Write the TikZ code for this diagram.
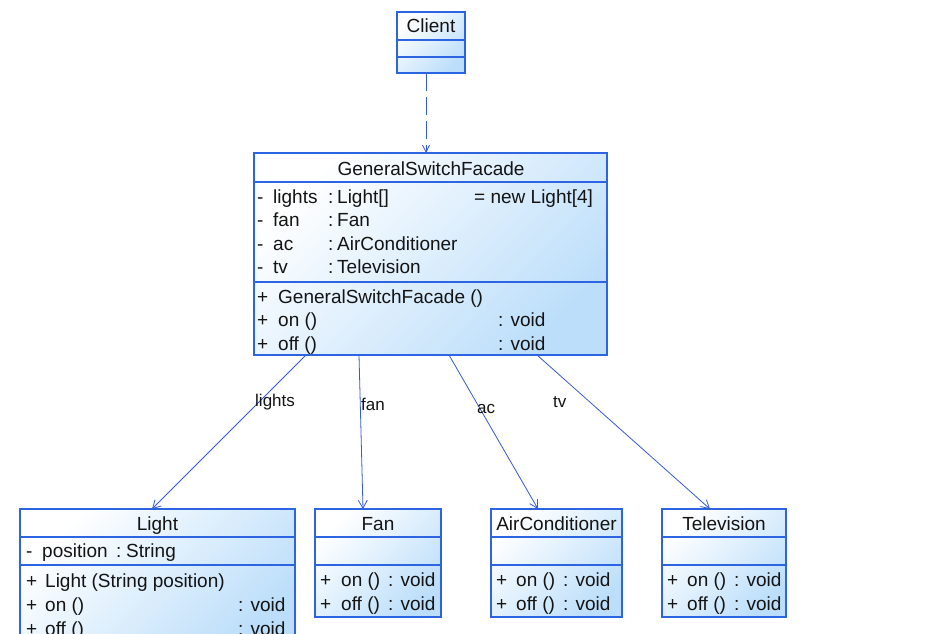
\documentclass[tikz,border=0pt]{standalone}
\usepackage{fontspec}
\setmainfont{Liberation Sans}
\usetikzlibrary{arrows.meta,calc}
\definecolor{umlborder}{RGB}{45,100,225}
\definecolor{umlline}{RGB}{55,90,215}
\definecolor{umlfill}{RGB}{188,222,250}
\definecolor{umltext}{RGB}{20,20,20}
\begin{document}
\begin{tikzpicture}[x=1pt,y=-1pt,
  classbox/.style={draw=umlborder, line width=1.1pt, top color=white,
    bottom color=umlfill, shading angle=45, anchor=north west,
    inner sep=0pt, outer sep=0pt},
  sep/.style={draw=umlborder, line width=1.1pt},
  title/.style={anchor=base, inner sep=0pt, text=umltext,
    font=\fontsize{19}{22}\selectfont},
  txt/.style={anchor=base west, inner sep=0pt, text=umltext,
    font=\fontsize{19}{22}\selectfont},
  role/.style={anchor=base west, inner sep=0pt, text=umltext,
    font=\fontsize{17}{20}\selectfont},
  assoc/.style={draw=umlline, line width=0.8pt,
    -{Straight Barb[length=8pt,width=9pt]}},
  depend/.style={draw=umlline, line width=0.8pt, dash pattern=on 18pt off 6pt,
    -{Straight Barb[length=7pt,width=7pt]}},
]
\useasboundingbox (0,0) rectangle (947,633);
\clip (0,0) rectangle (947,633);
\fill[white] (0,0) rectangle (947,633);

% ---- class boxes ----
\node[classbox, minimum width=68pt, minimum height=61pt] (client) at (397,12) {};
\node[classbox, minimum width=353pt, minimum height=202pt] (gsf) at (254,153) {};
\node[classbox, minimum width=275pt, minimum height=140pt] (light) at (20,509) {};
\node[classbox, minimum width=126pt, minimum height=108pt] (fan) at (315,509) {};
\node[classbox, minimum width=131pt, minimum height=108pt] (ac) at (491,509) {};
\node[classbox, minimum width=124pt, minimum height=108pt] (tv) at (662,509) {};

% ---- compartment separators ----
\foreach \c/\a/\b in {client/28/45, gsf/29/129, light/28/56, fan/28/56, ac/28/56, tv/28/56}{
  \draw[sep] ($(\c.north west)+(0,\a)$) -- ($(\c.north east)+(0,\a)$);
  \draw[sep] ($(\c.north west)+(0,\b)$) -- ($(\c.north east)+(0,\b)$);
}

% ---- Client ----
\node[title] (clientname) at (431,32) {Client};

% ---- GeneralSwitchFacade ----
\node[title] (gsfname) at (431,175) {GeneralSwitchFacade};
\node[txt] (g1a) at (257,203) {-};
\node[txt] (g1b) at (273,203) {lights};
\node[txt] (g1c) at (328,203) {:};
\node[txt] (g1d) at (337,203) {Light[]};
\node[txt] (g1e) at (474,203) {= new Light[4]};
\node[txt] (g2a) at (257,226) {-};
\node[txt] (g2b) at (273,226) {fan};
\node[txt] (g2c) at (328,226) {:};
\node[txt] (g2d) at (337,226) {Fan};
\node[txt] (g3a) at (257,250) {-};
\node[txt] (g3b) at (273,250) {ac};
\node[txt] (g3c) at (328,250) {:};
\node[txt] (g3d) at (337,250) {AirConditioner};
\node[txt] (g4a) at (257,273) {-};
\node[txt] (g4b) at (273,273) {tv};
\node[txt] (g4c) at (328,273) {:};
\node[txt] (g4d) at (337,273) {Television};
\node[txt] (g5a) at (257,303) {+};
\node[txt] (g5b) at (278,303) {GeneralSwitchFacade ()};
\node[txt] (g6a) at (257,326) {+};
\node[txt] (g6b) at (278,326) {on ()};
\node[txt] (g6c) at (498,326) {: void};
\node[txt] (g7a) at (257,350) {+};
\node[txt] (g7b) at (278,350) {off ()};
\node[txt] (g7c) at (498,350) {: void};

% ---- Light ----
\node[title] (lightname) at (157.5,530) {Light};
\node[txt] (l1a) at (26,557) {-};
\node[txt] (l1b) at (42,557) {position};
\node[txt] (l1c) at (116,557) {:};
\node[txt] (l1d) at (126,557) {String};
\node[txt] (l2a) at (26,587) {+};
\node[txt] (l2b) at (45,587) {Light (String position)};
\node[txt] (l3a) at (26,611) {+};
\node[txt] (l3b) at (45,611) {on ()};
\node[txt] (l3c) at (238,611) {: void};
\node[txt] (l4a) at (26,635) {+};
\node[txt] (l4b) at (45,635) {off ()};
\node[txt] (l4c) at (238,635) {: void};

% ---- Fan ----
\node[title] (fanname) at (378,530) {Fan};
\node[txt] (f1a) at (320,586) {+};
\node[txt] (f1b) at (341,586) {on ()};
\node[txt] (f1c) at (388,586) {: void};
\node[txt] (f2a) at (320,610) {+};
\node[txt] (f2b) at (341,610) {off ()};
\node[txt] (f2c) at (388,610) {: void};

% ---- AirConditioner ----
\node[title] (acname) at (556.5,530) {AirConditioner};
\node[txt] (a1a) at (496,586) {+};
\node[txt] (a1b) at (516,586) {on ()};
\node[txt] (a1c) at (563,586) {: void};
\node[txt] (a2a) at (496,610) {+};
\node[txt] (a2b) at (516,610) {off ()};
\node[txt] (a2c) at (563,610) {: void};

% ---- Television ----
\node[title] (tvname) at (724,530) {Television};
\node[txt] (t1a) at (667,586) {+};
\node[txt] (t1b) at (687,586) {on ()};
\node[txt] (t1c) at (734,586) {: void};
\node[txt] (t2a) at (667,610) {+};
\node[txt] (t2b) at (687,610) {off ()};
\node[txt] (t2c) at (734,610) {: void};

% ---- dependency Client -> facade ----
\draw[depend] ($(client.south west)+(29,0)$) -- ($(gsf.north west)+(172,0)$);

% ---- associations ----
\draw[assoc] ($(gsf.south west)+(52,0)$) -- ($(light.north west)+(132,0)$);
\draw[assoc] ($(gsf.south west)+(105,0)$) -- ($(fan.north west)+(48,0)$);
\draw[assoc] ($(gsf.south west)+(195,0)$) -- ($(ac.north west)+(47,0)$);
\draw[assoc] ($(gsf.south west)+(283,0)$) -- ($(tv.north west)+(48,0)$);

\node[role] (rlights) at (255,406) {lights};
\node[role] (rfan) at (361,410) {fan};
\node[role] (rac) at (477,413) {ac};
\node[role] (rtv) at (553,407) {tv};
\end{tikzpicture}
\end{document}
